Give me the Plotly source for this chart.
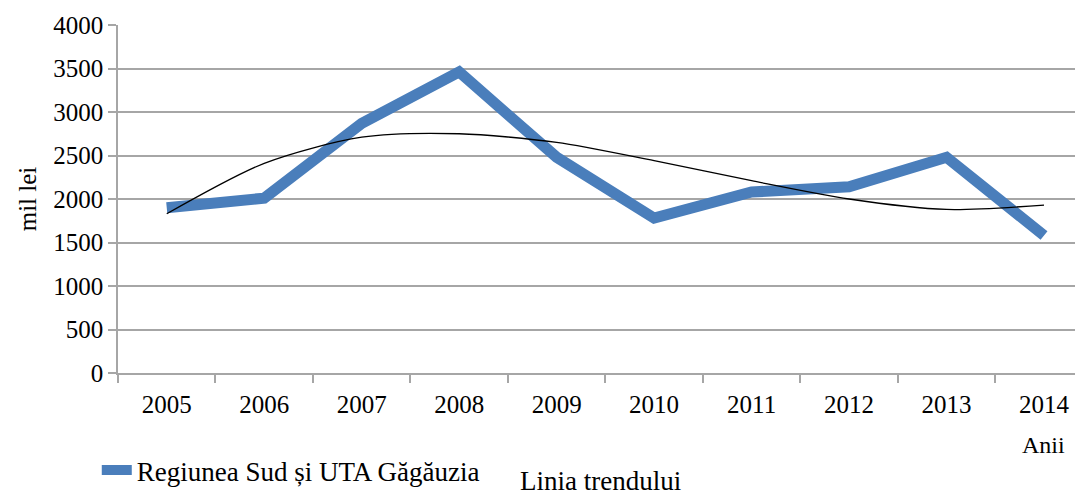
import plotly.graph_objects as go

# date
ani = ["2005", "2006", "2007", "2008", "2009", "2010", "2011", "2012", "2013", "2014"]
regiunea_sud = [1900, 2010, 2870, 3460, 2480, 1780, 2080, 2140, 2480, 1580]
# linia trendului (polinomiala), citita in dreptul fiecarui an
trend = [1830, 2410, 2710, 2750, 2650, 2440, 2210, 2000, 1880, 1930]
y_ticks = [0, 500, 1000, 1500, 2000, 2500, 3000, 3500, 4000]

serif = "Liberation Serif, Times New Roman, serif"
grid = "#a6a6a6"

fig = go.Figure()
fig.add_trace(go.Scatter(
    x=ani, y=regiunea_sud, mode="lines",
    name="Regiunea Sud și UTA Găgăuzia",
    line=dict(color="#4a7ebb", width=11),
))
fig.add_trace(go.Scatter(
    x=ani, y=trend, mode="lines", showlegend=False,
    line=dict(color="black", width=1.3, shape="spline", smoothing=0.8),
))

# pagina adauga 8px de margine, de aceea figura e putin mai mica
fig.update_layout(
    width=1075, height=487,
    margin=dict(l=110, r=0, t=17, b=120),
    paper_bgcolor="white", plot_bgcolor="white",
    font=dict(family=serif, color="black", size=24),
    showlegend=True,
    legend=dict(orientation="h", x=-0.022, y=-0.28, xanchor="left", yanchor="middle",
                font=dict(size=27, family=serif), bgcolor="rgba(0,0,0,0)"),
    annotations=[
        dict(text="Anii", xref="paper", yref="paper", x=0.983, y=-0.206,
             xanchor="right", yanchor="middle", showarrow=False,
             font=dict(size=24, family=serif)),
        dict(text="Linia trendului", xref="paper", yref="paper", x=0.415, y=-0.31,
             xanchor="left", yanchor="middle", showarrow=False,
             font=dict(size=27, family=serif)),
    ],
)
fig.update_xaxes(
    type="category", range=[-0.5, 9.4],
    showgrid=False, showline=True, linecolor=grid, linewidth=1.5,
    ticks="outside", tickson="boundaries", ticklen=8, tickcolor=grid, tickwidth=1.5,
    tickfont=dict(size=25, family=serif), ticklabelstandoff=8,
)
fig.update_yaxes(
    range=[0, 4000], tickvals=y_ticks,
    showgrid=True, gridcolor=grid, gridwidth=1.5,
    showline=True, linecolor=grid, linewidth=1.5,
    ticks="outside", ticklen=8, tickcolor=grid, tickwidth=1.5,
    tickfont=dict(size=25, family=serif), zeroline=False,
    title=dict(text="mil lei", font=dict(size=25, family=serif), standoff=10),
)

fig.write_html("out.html")
